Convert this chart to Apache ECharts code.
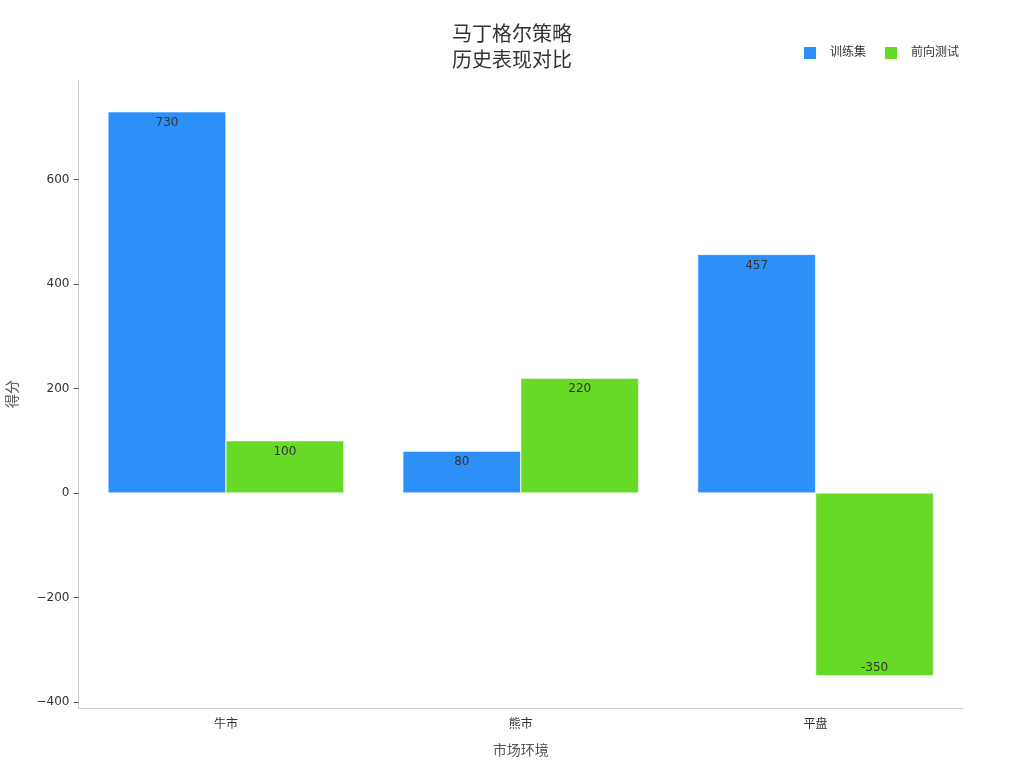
<!DOCTYPE html>
<html>
<head>
<meta charset="utf-8">
<script src="https://cdn.jsdelivr.net/npm/echarts@6/dist/echarts.min.js"></script>
<style>html,body{margin:0;padding:0;background:#fff}#c{width:1024px;height:768px}</style>
</head>
<body>
<div id="c"></div>
<script>
const categories = ['牛市', '熊市', '平盘'];
const trainValues = [730, 80, 457];
const forwardValues = [100, 220, -350];
const yTicks = [-400, -200, 0, 200, 400, 600];
const seriesNames = ['训练集', '前向测试'];

const FONT = 'DejaVu Sans, Noto Sans CJK SC, sans-serif';
const chart = echarts.init(document.getElementById('c'));

function mkData(vals) {
  return vals.map(v => ({
    value: v,
    label: v < 0 ? { position: 'insideBottom', distance: 2 } : { position: 'insideTop', distance: 5 }
  }));
}

const labelStyle = { show: true, color: '#333', fontSize: 12, fontFamily: FONT };

chart.setOption({
  backgroundColor: '#fff',
  animation: false,
  title: {
    text: '马丁格尔策略\n历史表现对比',
    left: 'center',
    top: 18,
    textStyle: { fontSize: 20, fontWeight: 'normal', color: '#333', fontFamily: FONT, lineHeight: 26 }
  },
  legend: {
    data: seriesNames,
    right: 65,
    top: 47,
    padding: 0,
    itemWidth: 12,
    itemHeight: 12,
    itemGap: 19,
    icon: 'rect',
    itemStyle: { borderWidth: 0 },
    textStyle: { fontSize: 12, color: '#333', fontFamily: FONT, padding: [0, 0, 0, 9] }
  },
  grid: { left: 78.5, right: 61, top: 80, bottom: 60, containLabel: false, outerBoundsMode: 'none' },
  xAxis: {
    type: 'category',
    data: categories,
    name: '市场环境',
    nameLocation: 'middle',
    nameGap: 36,
    nameTextStyle: { fontSize: 14, color: '#555', fontFamily: FONT },
    axisLine: { onZero: false, lineStyle: { color: '#ccc' } },
    axisTick: { alignWithLabel: true, length: 5, lineStyle: { color: '#555' } },
    axisLabel: { color: '#333', fontSize: 12, fontFamily: FONT, margin: 11 },
    splitLine: { show: false }
  },
  yAxis: {
    type: 'value',
    min: -411.7,
    max: 791,
    name: '得分',
    nameLocation: 'middle',
    nameGap: 58,
    nameRotate: 90,
    nameTextStyle: { fontSize: 14, color: '#555', fontFamily: FONT },
    axisLine: { show: true, lineStyle: { color: '#ccc' } },
    axisTick: { show: true, length: 5, customValues: yTicks, lineStyle: { color: '#555' } },
    axisLabel: {
      customValues: yTicks,
      color: '#333', fontSize: 12, fontFamily: FONT, margin: 9,
      formatter: v => (v < 0 ? '\u2212' + Math.abs(v) : String(v))
    },
    splitLine: { show: false }
  },
  series: [
    {
      name: seriesNames[0],
      type: 'bar',
      data: mkData(trainValues),
      barGap: '0%',
      barCategoryGap: '20%',
      itemStyle: { color: '#2d90f8', borderColor: '#fff', borderWidth: 0.5 },
      label: labelStyle
    },
    {
      name: seriesNames[1],
      type: 'bar',
      data: mkData(forwardValues),
      barGap: '0%',
      barCategoryGap: '20%',
      itemStyle: { color: '#66da26', borderColor: '#fff', borderWidth: 0.5 },
      label: labelStyle
    }
  ]
});
</script>
</body>
</html>
